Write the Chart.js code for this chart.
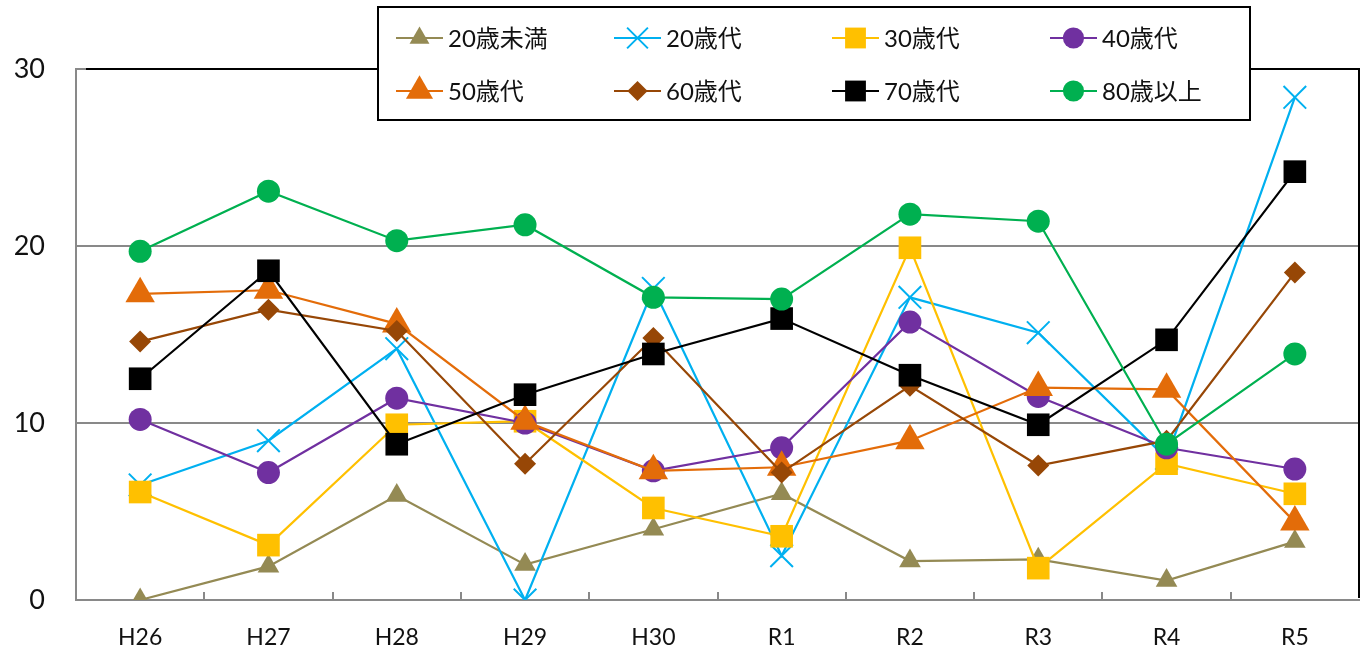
<!DOCTYPE html>
<html>
<head>
<meta charset="utf-8">
<script src="https://cdn.jsdelivr.net/npm/chart.js@4/dist/chart.umd.min.js"></script>
<style>
  html, body { margin: 0; padding: 0; background: #ffffff; }
  #wrap { width: 1369px; height: 648px; }
</style>
</head>
<body>
<div id="wrap"><canvas id="c" width="1369" height="648"></canvas></div>
<script>
// Fiscal years on the x axis
const categories = ['H26', 'H27', 'H28', 'H29', 'H30', 'R1', 'R2', 'R3', 'R4', 'R5'];

// Values per age group
const under20   = [0.0, 1.9, 5.9, 2.0, 4.0, 6.0, 2.2, 2.3, 1.1, 3.3];
const age20s    = [6.5, 9.0, 14.2, 0.0, 17.6, 2.5, 17.1, 15.1, 8.0, 28.4];
const age30s    = [6.1, 3.1, 9.9, 10.1, 5.2, 3.6, 19.9, 1.8, 7.7, 6.0];
const age40s    = [10.2, 7.2, 11.4, 10.0, 7.3, 8.6, 15.7, 11.5, 8.6, 7.4];
const age50s    = [17.3, 17.5, 15.6, 10.1, 7.3, 7.5, 9.0, 12.0, 11.9, 4.4];
const age60s    = [14.6, 16.4, 15.2, 7.7, 14.8, 7.2, 12.1, 7.6, 9.0, 18.5];
const age70s    = [12.5, 18.6, 8.8, 11.6, 13.9, 15.9, 12.7, 9.9, 14.7, 24.2];
const age80plus = [19.7, 23.1, 20.3, 21.2, 17.1, 17.0, 21.8, 21.4, 8.8, 13.9];

// Y axis tick values
const yTicks = [0, 10, 20, 30];

const seriesNames = ['20歳未満', '20歳代', '30歳代', '40歳代', '50歳代', '60歳代', '70歳代', '80歳以上'];
const seriesValues = [under20, age20s, age30s, age40s, age50s, age60s, age70s, age80plus];

// Appearance of each series
const seriesColors  = ['#948A54', '#00B0F0', '#FFC000', '#7030A0', '#E36C09', '#974706', '#000000', '#00B050'];
const seriesMarkers = ['triangle', 'crossRot', 'rect', 'circle', 'triangle', 'rectRot', 'rect', 'circle'];
const seriesRadii   = [12.5, 16, 16, 11.5, 17, 11, 16, 11.5];

const GRID_GRAY = '#898989';
const TICK_FONT = "Lato, 'Noto Sans CJK JP', sans-serif";

const datasets = seriesNames.map((name, i) => ({
  label: name,
  data: seriesValues[i],
  borderColor: seriesColors[i],
  backgroundColor: seriesColors[i],
  borderWidth: 2.2,
  pointStyle: seriesMarkers[i],
  pointRadius: seriesRadii[i],
  pointHoverRadius: seriesRadii[i],
  pointBackgroundColor: seriesColors[i],
  pointBorderColor: seriesColors[i],
  pointBorderWidth: seriesMarkers[i] === 'crossRot' ? 2 : 0,
  tension: 0,
  fill: false,
  order: seriesNames.length - i   // later series are painted on top
}));

// Marker shapes for the legend, matching Chart.js point styles
function drawMarker(ctx, style, x, y, r, color) {
  ctx.save();
  ctx.fillStyle = color;
  ctx.strokeStyle = color;
  ctx.beginPath();
  if (style === 'circle') {
    ctx.arc(x, y, r, 0, Math.PI * 2);
    ctx.fill();
  } else if (style === 'rect') {
    const s = Math.SQRT1_2 * r;
    ctx.rect(x - s, y - s, 2 * s, 2 * s);
    ctx.fill();
  } else if (style === 'rectRot') {
    ctx.moveTo(x - r, y); ctx.lineTo(x, y - r); ctx.lineTo(x + r, y); ctx.lineTo(x, y + r);
    ctx.closePath();
    ctx.fill();
  } else if (style === 'triangle') {
    const a = Math.PI * 2 / 3;
    ctx.moveTo(x, y - r);
    ctx.lineTo(x + Math.sin(a) * r, y - Math.cos(a) * r);
    ctx.lineTo(x + Math.sin(2 * a) * r, y - Math.cos(2 * a) * r);
    ctx.closePath();
    ctx.fill();
  } else if (style === 'crossRot') {
    const o = Math.SQRT1_2 * r;
    ctx.lineWidth = 2;
    ctx.moveTo(x - o, y - o); ctx.lineTo(x + o, y + o);
    ctx.moveTo(x + o, y - o); ctx.lineTo(x - o, y + o);
    ctx.stroke();
  }
  ctx.restore();
}

// Plot frame: black top/right edges and inward tick marks on the x axis
const framePlugin = {
  id: 'frame',
  afterDatasetsDraw(chart) {
    const { ctx, chartArea: a, scales: { x } } = chart;
    ctx.save();
    ctx.strokeStyle = GRID_GRAY;
    ctx.lineWidth = 2;
    for (let i = 1; i < categories.length; i++) {
      const px = Math.round((x.getPixelForValue(i - 1) + x.getPixelForValue(i)) / 2);
      ctx.beginPath();
      ctx.moveTo(px, a.bottom);
      ctx.lineTo(px, a.bottom - 8);
      ctx.stroke();
    }
    ctx.strokeStyle = '#000000';
    ctx.beginPath();
    ctx.moveTo(a.left + 10, a.top);
    ctx.lineTo(a.right, a.top);
    ctx.lineTo(a.right, a.bottom - 2);
    ctx.stroke();
    ctx.restore();
  }
};

// Boxed legend in two rows of four
const legendPlugin = {
  id: 'boxLegend',
  afterDraw(chart) {
    const ctx = chart.ctx;
    const box = { left: 378, top: 7, right: 1250, bottom: 120 };
    ctx.save();
    ctx.fillStyle = '#ffffff';
    ctx.fillRect(box.left, box.top, box.right - box.left, box.bottom - box.top);
    ctx.strokeStyle = '#000000';
    ctx.lineWidth = 2;
    ctx.strokeRect(box.left, box.top, box.right - box.left, box.bottom - box.top);

    const colX = [396, 614, 832, 1050];
    const rowY = [38, 91];
    const lineLen = 47;
    ctx.font = "24px Lato, 'Noto Sans CJK JP', sans-serif";
    ctx.textBaseline = 'middle';
    ctx.textAlign = 'left';
    seriesNames.forEach((name, i) => {
      const x0 = colX[i % 4];
      const y0 = rowY[Math.floor(i / 4)];
      ctx.strokeStyle = seriesColors[i];
      ctx.lineWidth = 2.2;
      ctx.beginPath();
      ctx.moveTo(x0, y0);
      ctx.lineTo(x0 + lineLen, y0);
      ctx.stroke();
      drawMarker(ctx, seriesMarkers[i], x0 + lineLen / 2, y0, seriesRadii[i] * 0.92, seriesColors[i]);
      ctx.fillStyle = '#111111';
      ctx.fillText(name, x0 + lineLen + 5, y0 + 1);
    });
    ctx.restore();
  }
};

new Chart(document.getElementById('c'), {
  type: 'line',
  data: { labels: categories, datasets },
  options: {
    responsive: false,
    animation: false,
    devicePixelRatio: 1,
    layout: { autoPadding: false, padding: { left: 0, right: 10, top: 69, bottom: 0 } },
    plugins: {
      legend: { display: false },
      tooltip: { enabled: false }
    },
    scales: {
      x: {
        type: 'category',
        offset: true,
        grid: { display: false, drawOnChartArea: false, drawTicks: false },
        border: { display: true, color: GRID_GRAY, width: 2 },
        ticks: {
          color: '#111111',
          font: { family: TICK_FONT, size: 23 },
          padding: 24,
          maxRotation: 0,
          autoSkip: false
        },
        afterFit(scale) {
          scale.height = 48;
          scale.paddingLeft = 0;
          scale.paddingRight = 0;
        }
      },
      y: {
        min: 0,
        max: 30,
        afterBuildTicks(scale) { scale.ticks = yTicks.map(v => ({ value: v })); },
        grid: {
          drawTicks: false,
          lineWidth: 2,
          color: ctx => (ctx.tick && (ctx.tick.value === 10 || ctx.tick.value === 20 || ctx.tick.value === 30)) ? GRID_GRAY : 'rgba(0,0,0,0)'
        },
        border: { display: true, color: GRID_GRAY, width: 2 },
        ticks: {
          color: '#111111',
          font: { family: TICK_FONT, size: 27 },
          padding: 31
        },
        afterFit(scale) { scale.width = 76; }
      }
    }
  },
  plugins: [framePlugin, legendPlugin]
});
</script>
</body>
</html>
